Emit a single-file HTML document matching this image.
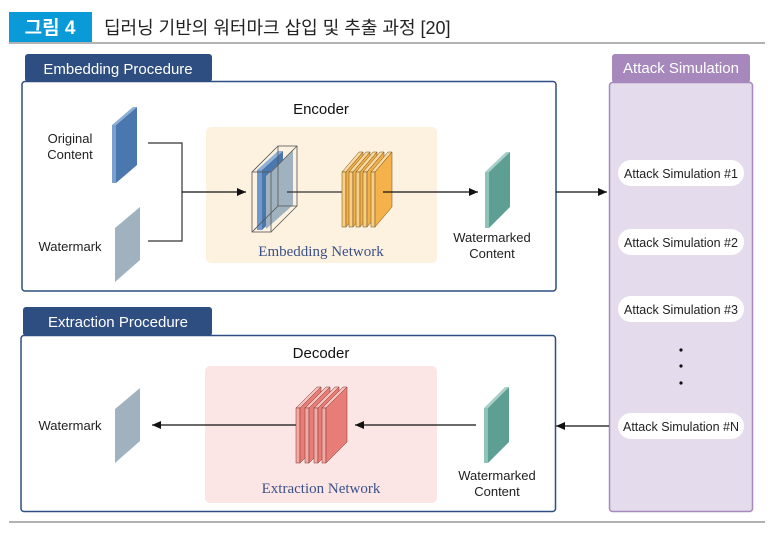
<!DOCTYPE html>
<html><head><meta charset="utf-8"><style>
html,body{margin:0;padding:0;background:#fff;}
svg{display:block;}
text{font-family:"Liberation Sans","Noto Sans CJK KR",sans-serif;}
.s{font-family:"Liberation Serif",serif;}
</style></head><body>
<svg width="776" height="535" viewBox="0 0 776 535" xmlns="http://www.w3.org/2000/svg">
<defs>
<marker id="ah" markerWidth="10" markerHeight="10" refX="9" refY="5" orient="auto" markerUnits="userSpaceOnUse">
<path d="M0,1 L9,5 L0,9 z" fill="#111"/></marker>
</defs>
<rect x="9" y="12" width="83" height="30" fill="#0a9ad8"/>
<text x="50" y="34" font-size="19" font-weight="bold" fill="#fff" text-anchor="middle">그림 4</text>
<text x="104" y="34" font-size="18" fill="#222">딥러닝 기반의 워터마크 삽입 및 추출 과정 [20]</text>
<line x1="9" y1="43" x2="765" y2="43" stroke="#999" stroke-width="1.5"/>
<line x1="9" y1="522" x2="765" y2="522" stroke="#999" stroke-width="1.5"/>

<rect x="25" y="54" width="187" height="28" rx="3" fill="#2e4d80"/>
<text x="118" y="74" font-size="15" fill="#fff" text-anchor="middle">Embedding Procedure</text>
<rect x="22" y="81.5" width="534" height="209.5" rx="3" fill="#fff" stroke="#2e4d80" stroke-width="1.5"/>
<text x="321" y="114" font-size="15" fill="#111" text-anchor="middle">Encoder</text>
<rect x="206" y="127" width="231" height="136" rx="5" fill="#fdf1df"/>
<text x="321" y="256" font-size="15" fill="#3c5288" text-anchor="middle" class="s">Embedding Network</text>

<text x="70" y="143" font-size="13" fill="#222" text-anchor="middle">Original</text>
<text x="70" y="159" font-size="13" fill="#222" text-anchor="middle">Content</text>
<text x="70" y="251" font-size="13" fill="#222" text-anchor="middle">Watermark</text>
<polygon points="112,125 133,107 137,107 116,125" fill="#8fb0d6"/>
<rect x="112" y="125" width="4" height="58" fill="#7aa0d0"/>
<polygon points="116,125 137,107 137,165 116,183" fill="#4a78ae"/>
<polygon points="115,228 140,207 140,260 115,282" fill="#a0b2c0"/>
<polyline points="148,143 182,143 182,241 148,241" fill="none" stroke="#333" stroke-width="1.2"/>
<line x1="182" y1="192" x2="246" y2="192" stroke="#111" stroke-width="1.2" marker-end="url(#ah)"/>

<polygon points="257,170 278,151 283,151 262,170" fill="#8fb0d6"/>
<rect x="257" y="170" width="5" height="60" fill="#6f98cc"/>
<polygon points="262,170 283,151 283,210 262,230" fill="#4a78ae"/>
<polygon points="266,176 293,150 293,205 266,229" fill="#a0b2c0"/>
<g fill="none" stroke="#555" stroke-width="0.8">
<rect x="252" y="172" width="19" height="60"/>
<rect x="278" y="146" width="19" height="60"/>
<line x1="252" y1="172" x2="278" y2="146"/><line x1="271" y1="172" x2="297" y2="146"/>
<line x1="271" y1="232" x2="297" y2="206"/><line x1="252" y1="232" x2="278" y2="206"/>
</g>
<line x1="287" y1="192" x2="342" y2="192" stroke="#333" stroke-width="1.2"/>
<g stroke="#6b4a10" stroke-width="0.5">
<g transform="translate(342,152)"><polygon points="0,20 17,0 21,0 4,20" fill="#fbd9a0"/><rect x="0" y="20" width="4" height="55" fill="#f9cf85"/><polygon points="4,20 21,0 21,55 4,75" fill="#f2b04a"/></g>
<g transform="translate(349,152)"><polygon points="0,20 17,0 21,0 4,20" fill="#fbd9a0"/><rect x="0" y="20" width="4" height="55" fill="#f9cf85"/><polygon points="4,20 21,0 21,55 4,75" fill="#f2b04a"/></g>
<g transform="translate(356,152)"><polygon points="0,20 17,0 21,0 4,20" fill="#fbd9a0"/><rect x="0" y="20" width="4" height="55" fill="#f9cf85"/><polygon points="4,20 21,0 21,55 4,75" fill="#f2b04a"/></g>
<g transform="translate(363,152)"><polygon points="0,20 17,0 21,0 4,20" fill="#fbd9a0"/><rect x="0" y="20" width="4" height="55" fill="#f9cf85"/><polygon points="4,20 21,0 21,55 4,75" fill="#f2b04a"/></g>
<g transform="translate(371,152)"><polygon points="0,20 17,0 21,0 4,20" fill="#fbd9a0"/><rect x="0" y="20" width="4" height="55" fill="#f9cf85"/><polygon points="4,20 21,0 21,55 4,75" fill="#f5b24a"/></g>
</g>
<line x1="383" y1="192" x2="478" y2="192" stroke="#111" stroke-width="1.2" marker-end="url(#ah)"/>
<polygon points="485,172 506,152 510,152 489,172" fill="#a8d0c8"/>
<rect x="485" y="172" width="4" height="56" fill="#8cc4b8"/>
<polygon points="489,172 510,152 510,207 489,228" fill="#5e9f94"/>
<text x="492" y="242" font-size="13" fill="#222" text-anchor="middle">Watermarked</text>
<text x="492" y="258" font-size="13" fill="#222" text-anchor="middle">Content</text>
<line x1="556" y1="192" x2="607" y2="192" stroke="#111" stroke-width="1.2" marker-end="url(#ah)"/>

<rect x="612" y="54" width="138" height="29" rx="3" fill="#a688bd"/>
<text x="681" y="73" font-size="15" fill="#fff" text-anchor="middle">Attack Simulation</text>
<rect x="609.5" y="82.5" width="143" height="429" rx="3" fill="#e4dcec" stroke="#a688bd" stroke-width="1.5"/>
<g font-size="12.5" fill="#222" text-anchor="middle">
<rect x="618" y="160" width="126" height="26" rx="13" fill="#fff"/><text x="681" y="178">Attack Simulation #1</text>
<rect x="618" y="229" width="126" height="26" rx="13" fill="#fff"/><text x="681" y="247">Attack Simulation #2</text>
<rect x="618" y="296" width="126" height="26" rx="13" fill="#fff"/><text x="681" y="314">Attack Simulation #3</text>
<rect x="618" y="413" width="126" height="26" rx="13" fill="#fff"/><text x="681" y="431">Attack Simulation #N</text>
</g>
<circle cx="681" cy="350" r="1.6" fill="#111"/><circle cx="681" cy="366" r="1.6" fill="#111"/><circle cx="681" cy="383" r="1.6" fill="#111"/>

<rect x="23" y="307" width="189" height="29" rx="3" fill="#2e4d80"/>
<text x="118" y="327" font-size="15" fill="#fff" text-anchor="middle">Extraction Procedure</text>
<rect x="21" y="335.5" width="534.5" height="176" rx="3" fill="#fff" stroke="#2e4d80" stroke-width="1.5"/>
<text x="321" y="358" font-size="15" fill="#111" text-anchor="middle">Decoder</text>
<rect x="205" y="366" width="232" height="137" rx="5" fill="#fbe5e5"/>
<text x="321" y="493" font-size="15" fill="#3c5288" text-anchor="middle" class="s">Extraction Network</text>
<text x="70" y="430" font-size="13" fill="#222" text-anchor="middle">Watermark</text>
<polygon points="115,409 140,388 140,441 115,463" fill="#a0b2c0"/>
<line x1="297" y1="425" x2="152" y2="425" stroke="#111" stroke-width="1.2" marker-end="url(#ah)"/>
<g stroke="#7a3030" stroke-width="0.5">
<g transform="translate(296,387)"><polygon points="0,21 21,0 25,0 4,21" fill="#f6c0ba"/><rect x="0" y="21" width="4" height="55" fill="#f2aaa2"/><polygon points="4,21 25,0 25,55 4,76" fill="#e77d76"/></g>
<g transform="translate(305,387)"><polygon points="0,21 21,0 25,0 4,21" fill="#f6c0ba"/><rect x="0" y="21" width="4" height="55" fill="#f2aaa2"/><polygon points="4,21 25,0 25,55 4,76" fill="#e77d76"/></g>
<g transform="translate(314,387)"><polygon points="0,21 21,0 25,0 4,21" fill="#f6c0ba"/><rect x="0" y="21" width="4" height="55" fill="#f2aaa2"/><polygon points="4,21 25,0 25,55 4,76" fill="#e77d76"/></g>
<g transform="translate(322,387)"><polygon points="0,21 21,0 25,0 4,21" fill="#f6c0ba"/><rect x="0" y="21" width="4" height="55" fill="#f2aaa2"/><polygon points="4,21 25,0 25,55 4,76" fill="#e77d76"/></g>
</g>
<line x1="476" y1="425" x2="355" y2="425" stroke="#111" stroke-width="1.2" marker-end="url(#ah)"/>
<polygon points="484,408 505,387 509,387 488,408" fill="#a8d0c8"/>
<rect x="484" y="408" width="4" height="55" fill="#8cc4b8"/>
<polygon points="488,408 509,387 509,442 488,463" fill="#5e9f94"/>
<text x="497" y="480" font-size="13" fill="#222" text-anchor="middle">Watermarked</text>
<text x="497" y="496" font-size="13" fill="#222" text-anchor="middle">Content</text>
<line x1="609" y1="426" x2="556" y2="426" stroke="#111" stroke-width="1.2" marker-end="url(#ah)"/>
</svg>
</body></html>
